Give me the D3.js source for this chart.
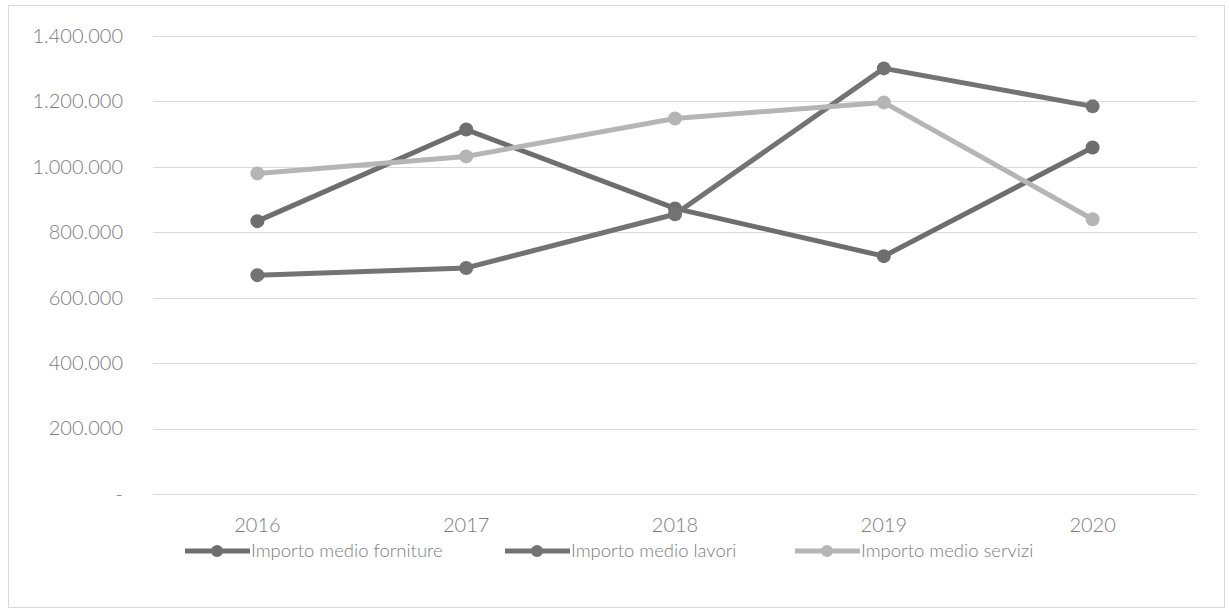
<!DOCTYPE html>
<html>
<head>
<meta charset="utf-8">
<script src="https://cdn.jsdelivr.net/npm/d3@7"></script>
<style>
  html, body { margin: 0; padding: 0; background: #ffffff; }
  svg { display: block; }
  text { font-family: Lato, "Open Sans", sans-serif; }
</style>
</head>
<body>
<svg id="chart" width="1229" height="614"></svg>
<script>
// Average contract amounts by year (euro)
const years = ["2016", "2017", "2018", "2019", "2020"];
const forniture = [834000, 1114000, 873000, 727000, 1059000];
const lavori = [669000, 691000, 855000, 1301000, 1185000];
const servizi = [980000, 1032000, 1148000, 1197000, 840000];
const seriesNames = ["Importo medio forniture", "Importo medio lavori", "Importo medio servizi"];
const yTicks = [0, 200000, 400000, 600000, 800000, 1000000, 1200000, 1400000];

const seriesColors = ["#6e6e6e", "#737373", "#b5b5b5"];
const seriesData = [forniture, lavori, servizi];
const textColor = "#7c7c7c";

const svg = d3.select("#chart");

// outer frame
svg.append("rect")
  .attr("x", 8.5).attr("y", 5.5)
  .attr("width", 1216).attr("height", 602)
  .attr("fill", "none").attr("stroke", "#d9d9d9").attr("stroke-width", 1);

const plot = { left: 153, right: 1197, top: 36, bottom: 494 };

const x = d3.scaleBand().domain(years).range([plot.left, plot.right]);
const y = d3.scaleLinear().domain([0, 1400000]).range([plot.bottom, plot.top]);

const itFormat = d3.formatLocale({ decimal: ",", thousands: ".", grouping: [3], currency: ["€", ""] }).format(",.0f");

// horizontal gridlines
svg.append("g")
  .selectAll("line")
  .data(yTicks)
  .join("line")
  .attr("x1", plot.left).attr("x2", plot.right)
  .attr("y1", d => Math.round(y(d)) + 0.5).attr("y2", d => Math.round(y(d)) + 0.5)
  .attr("stroke", "#d9d9d9").attr("stroke-width", 1);

// y axis labels
const yAxis = d3.axisLeft(y)
  .tickValues(yTicks)
  .tickSize(0)
  .tickPadding(0)
  .tickFormat(d => d === 0 ? "-" : itFormat(d));

const yg = svg.append("g")
  .attr("transform", `translate(${123},0)`)
  .call(yAxis);
yg.select(".domain").remove();
yg.selectAll("text")
  .attr("fill", textColor)
  .style("font-size", "20px")
  .style("font-weight", "300");

// x axis labels
const xAxis = d3.axisBottom(x).tickSize(0).tickPadding(0);
const xg = svg.append("g")
  .attr("transform", `translate(0,${plot.bottom + 24})`)
  .call(xAxis);
xg.select(".domain").remove();
xg.selectAll("text")
  .attr("fill", textColor)
  .style("font-size", "20px")
  .style("font-weight", "300");

const cx = d => x(d) + x.bandwidth() / 2;

const line = d3.line()
  .x((d, i) => cx(years[i]))
  .y(d => y(d));

seriesData.forEach((vals, s) => {
  const g = svg.append("g");
  g.append("path")
    .datum(vals)
    .attr("d", line)
    .attr("fill", "none")
    .attr("stroke", seriesColors[s])
    .attr("stroke-width", 5)
    .attr("stroke-linejoin", "round");
  g.selectAll("circle")
    .data(vals)
    .join("circle")
    .attr("cx", (d, i) => cx(years[i]))
    .attr("cy", d => y(d))
    .attr("r", 7)
    .attr("fill", seriesColors[s]);
});

// legend
const legendX = [185, 505, 795];
const legendY = 551;
const legend = svg.append("g");
seriesNames.forEach((name, s) => {
  const lg = legend.append("g").attr("transform", `translate(${legendX[s]},${legendY})`);
  lg.append("line")
    .attr("x1", 0).attr("x2", 65)
    .attr("y1", 0).attr("y2", 0)
    .attr("stroke", seriesColors[s]).attr("stroke-width", 5);
  lg.append("circle")
    .attr("cx", 32).attr("cy", 0).attr("r", 6)
    .attr("fill", seriesColors[s]);
  lg.append("text")
    .attr("x", 66).attr("y", 0)
    .attr("dy", "0.35em")
    .attr("fill", textColor)
    .style("font-size", "18.5px")
    .style("font-weight", "300")
    .text(name);
});
</script>
</body>
</html>
